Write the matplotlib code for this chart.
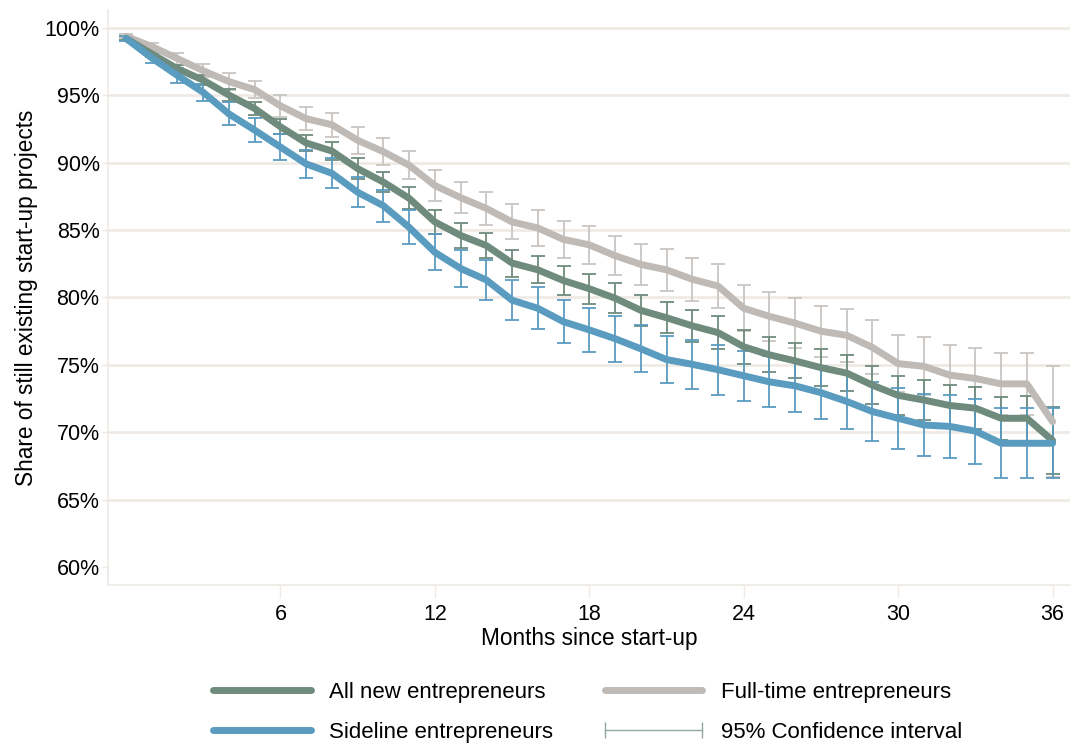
import matplotlib
matplotlib.use("Agg")
import matplotlib.pyplot as plt
from matplotlib.lines import Line2D
from matplotlib.ticker import FuncFormatter

plt.rcParams['font.family'] = ['Liberation Sans', 'DejaVu Sans']

# months since start-up
months = list(range(37))

# share of still existing projects (%)
all_new = [99.2, 98.05, 96.95, 96.1, 95.0, 94.0, 92.65, 91.45, 90.85, 89.55,
           88.55, 87.35, 85.6, 84.6, 83.85, 82.55, 82.05, 81.25, 80.65, 79.95,
           79.05, 78.5, 77.9, 77.4, 76.35, 75.75, 75.3, 74.8, 74.4, 73.5,
           72.75, 72.4, 72.0, 71.8, 71.05, 71.05, 69.4]
full_time = [99.35, 98.6, 97.7, 96.8, 96.0, 95.4, 94.2, 93.25, 92.8, 91.65,
             90.8, 89.8, 88.3, 87.4, 86.6, 85.6, 85.15, 84.3, 83.9, 83.1,
             82.45, 82.05, 81.35, 80.85, 79.2, 78.6, 78.1, 77.5, 77.2, 76.3,
             75.1, 74.9, 74.25, 74.0, 73.6, 73.6, 70.8]
sideline = [99.2, 97.75, 96.45, 95.2, 93.6, 92.4, 91.15, 89.9, 89.2, 87.8,
            86.8, 85.2, 83.35, 82.15, 81.3, 79.8, 79.2, 78.2, 77.6, 76.95,
            76.2, 75.4, 75.05, 74.65, 74.2, 73.75, 73.45, 72.95, 72.3, 71.55,
            71.05, 70.55, 70.45, 70.1, 69.2, 69.2, 69.2]

# half width of the 95% confidence interval (percentage points)
ci_all = [0.15, 0.2, 0.3, 0.35, 0.45, 0.5, 0.55, 0.6, 0.65, 0.75,
          0.75, 0.8, 0.9, 0.9, 0.95, 1.0, 1.0, 1.05, 1.1, 1.1,
          1.15, 1.15, 1.2, 1.2, 1.25, 1.3, 1.3, 1.35, 1.35, 1.4,
          1.45, 1.5, 1.5, 1.55, 1.6, 1.65, 2.5]
ci_full = [0.15, 0.25, 0.45, 0.5, 0.65, 0.65, 0.8, 0.85, 0.9, 1.0,
           1.0, 1.05, 1.15, 1.15, 1.2, 1.3, 1.3, 1.35, 1.4, 1.45,
           1.55, 1.55, 1.6, 1.6, 1.7, 1.8, 1.85, 1.9, 1.95, 2.0,
           2.1, 2.15, 2.2, 2.25, 2.3, 2.3, 4.1]
ci_side = [0.2, 0.35, 0.55, 0.65, 0.85, 0.9, 1.0, 1.05, 1.1, 1.1,
           1.2, 1.25, 1.35, 1.4, 1.45, 1.5, 1.55, 1.6, 1.65, 1.7,
           1.75, 1.75, 1.8, 1.85, 1.85, 1.9, 1.95, 1.95, 2.05, 2.2,
           2.25, 2.3, 2.35, 2.4, 2.6, 2.6, 2.6]

x_ticks = [6, 12, 18, 24, 30, 36]
y_ticks = [60, 65, 70, 75, 80, 85, 90, 95, 100]
grid_y = [65, 70, 75, 80, 85, 90, 95, 100]

green = '#6e8b7e'
grey = '#bfbab5'
blue = '#5a9bc0'
beige = '#efeae5'

fig = plt.figure(figsize=(10.72, 7.47), dpi=100)
ax = fig.add_axes([0.1007, 0.2169, 0.8973, 0.7697])

for g in grid_y:
    ax.axhline(g, color=beige, lw=2, zorder=0)

# confidence intervals first, lines go over them
ax.errorbar(months, full_time, yerr=ci_full, fmt='none', ecolor='#c9c5c1',
            elinewidth=1.3, capsize=5, capthick=1.3, zorder=1)
ax.errorbar(months, all_new, yerr=ci_all, fmt='none', ecolor=green,
            elinewidth=1.3, capsize=5, capthick=1.3, zorder=1)
ax.errorbar(months, sideline, yerr=ci_side, fmt='none', ecolor=blue,
            elinewidth=1.3, capsize=5, capthick=1.3, zorder=1)

ax.plot(months, full_time, color=grey, lw=5, solid_capstyle='round', zorder=3)
ax.plot(months, all_new, color=green, lw=5, solid_capstyle='round', zorder=4)
ax.plot(months, sideline, color=blue, lw=5, solid_capstyle='round', zorder=5)

ax.set_xlim(-0.7, 36.67)
ax.set_ylim(58.7, 101.3)
ax.set_xticks(x_ticks)
ax.set_yticks(y_ticks)
ax.yaxis.set_major_formatter(FuncFormatter(lambda v, p: '%d%%' % v))

for s in ['top', 'right']:
    ax.spines[s].set_visible(False)
for s in ['left', 'bottom']:
    ax.spines[s].set_color(beige)
    ax.spines[s].set_linewidth(1.3)

ax.tick_params(axis='x', length=9, width=1, color=beige, labelsize=15.5, pad=5)
ax.tick_params(axis='y', length=4, width=1, color=beige, labelsize=15.5, pad=2)

ax.set_xlabel('Months since start-up', fontsize=16.3, labelpad=1)
ax.set_ylabel('Share of still existing start-up projects', fontsize=16.3, labelpad=5)

handles = [
    Line2D([], [], color=green, lw=5, solid_capstyle='round'),
    Line2D([], [], color=blue, lw=5, solid_capstyle='round'),
    Line2D([], [], color=grey, lw=5, solid_capstyle='round'),
    Line2D([], [], color='#8fa8a0', lw=1, marker='|', markersize=11,
           markeredgewidth=1),
]
labels = ['All new entrepreneurs', 'Sideline entrepreneurs',
          'Full-time entrepreneurs', '95% Confidence interval']
fig.legend(handles, labels, ncol=2, loc='center', bbox_to_anchor=(0.545, 0.046),
           frameon=False, fontsize=16, handlelength=5.0, handletextpad=0.55,
           columnspacing=2.0, labelspacing=0.85, numpoints=2)

fig.savefig('out.png', dpi=100)
